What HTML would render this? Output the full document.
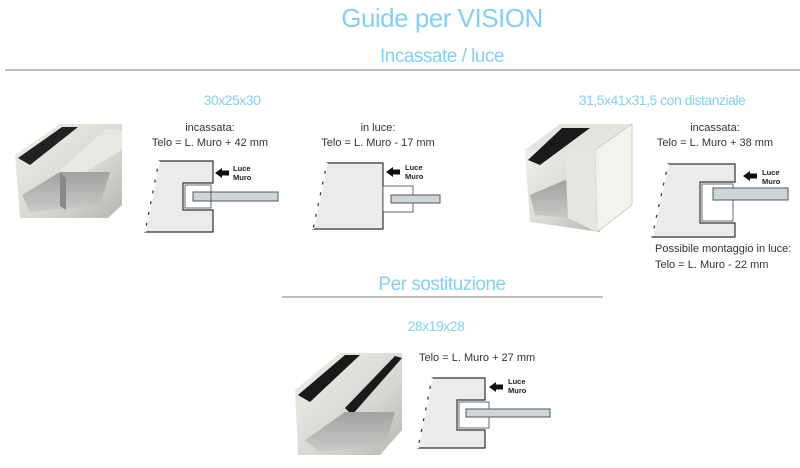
<!DOCTYPE html>
<html><head><meta charset="utf-8"><style>
body{margin:0;background:#fff;width:800px;height:468px;overflow:hidden}
svg{display:block}
text{font-family:"Liberation Sans",sans-serif}
.t{fill:#86cff2;letter-spacing:-0.5px}
.s{fill:#333;font-size:11px;text-anchor:middle}
.w{fill:#e9ebed;stroke:#333;stroke-width:1.2}
.g{fill:#cfd6da;stroke:#555;stroke-width:1}
.lm{font-size:7.5px;font-weight:bold;fill:#222}
</style></head><body>
<svg width="800" height="468" viewBox="0 0 800 468">
<defs>
<linearGradient id="m" x1="0" y1="0" x2="1" y2="1"><stop offset="0" stop-color="#f0f0ea"/><stop offset="0.6" stop-color="#d6d7d2"/><stop offset="1" stop-color="#b5b7b3"/></linearGradient>
<linearGradient id="f" x1="0" y1="0" x2="0" y2="1"><stop offset="0" stop-color="#9fa2a0"/><stop offset="1" stop-color="#c9cbc7"/></linearGradient>
<g id="ar"><polygon points="0,0 7,-5 7,-2.5 14,-2.5 14,2.5 7,2.5 7,5" fill="#111"/></g>
</defs>
<text x="442" y="27" class="t" font-size="26" text-anchor="middle">Guide per VISION</text>
<text x="442" y="62" class="t" font-size="19" text-anchor="middle">Incassate / luce</text>
<line x1="5" y1="70" x2="800" y2="70" stroke="#aaa" stroke-width="1.5"/>

<!-- photo 1 -->
<polygon points="15,155 60,124 122,124 122,205 108,218 20,218" fill="url(#m)"/>
<polygon points="18,158 62,127 78,127 30,165" fill="#222"/>
<polygon points="58,172 105,130 122,130 122,150 72,180" fill="#e8e8e2"/>
<polygon points="22,195 60,172 110,172 100,205 30,212" fill="url(#f)"/>
<polygon points="60,172 66,178 66,210 60,206" fill="#888"/>
<text x="232" y="105" class="t" font-size="14" text-anchor="middle">30x25x30</text>
<text x="210" y="131" class="s">incassata:</text>
<text x="210" y="146" class="s">Telo = L. Muro + 42 mm</text>
<polygon class="w" points="159,161 213,161 213,183 183,183 183,210 213,210 213,232 145,232"/>
<line x1="159" y1="161" x2="145" y2="232" stroke="#fff" stroke-width="2" stroke-dasharray="8,3"/>
<rect class="g" x="193" y="192" width="85" height="9"/>
<rect x="185" y="185" width="26" height="23" fill="none" stroke="#444" stroke-width="0.8"/>
<use href="#ar" x="215" y="173"/>
<text x="233" y="171" class="lm">Luce</text><text x="233" y="180" class="lm">Muro</text>

<text x="378" y="131" class="s">in luce:</text>
<text x="378" y="146" class="s">Telo = L. Muro - 17 mm</text>
<polygon class="w" points="327,163 383,163 383,229 313,229"/>
<line x1="327" y1="163" x2="313" y2="229" stroke="#fff" stroke-width="2" stroke-dasharray="8,3"/>
<rect x="383" y="186" width="30" height="26" fill="#fff" stroke="#444" stroke-width="0.8"/>
<rect class="g" x="391" y="195" width="49" height="8"/>
<use href="#ar" x="386" y="172"/>
<text x="405" y="170" class="lm">Luce</text><text x="405" y="179" class="lm">Muro</text>

<!-- photo 2 -->
<polygon points="525,150 560,124 632,124 600,150" fill="#e4e4de"/>
<polygon points="525,150 600,150 600,232 530,222" fill="url(#m)"/>
<polygon points="528,160 562,128 590,128 540,165" fill="#1a1a1a"/>
<polygon points="530,195 565,180 595,190 595,220 535,215" fill="url(#f)"/>
<polygon points="595,150 632,124 632,205 597,232" fill="#f3f2ec" stroke="#ccc"/>
<polygon points="565,150 595,150 597,232 568,218" fill="#e6e6e0"/>
<text x="662" y="105" class="t" font-size="14" text-anchor="middle">31,5x41x31,5 con distanziale</text>
<text x="715" y="131" class="s">incassata:</text>
<text x="715" y="146" class="s">Telo = L. Muro + 38 mm</text>
<polygon class="w" points="668,164 735,164 735,182 700,182 700,223 735,223 735,237 652,237"/>
<line x1="668" y1="164" x2="652" y2="237" stroke="#fff" stroke-width="2" stroke-dasharray="8,3"/>
<rect x="702" y="184" width="31" height="37" fill="none" stroke="#444" stroke-width="0.8"/>
<rect class="g" x="713" y="188" width="75" height="12"/>
<use href="#ar" x="743" y="176"/>
<text x="762" y="175" class="lm">Luce</text><text x="762" y="184" class="lm">Muro</text>
<text x="655" y="252" class="s" style="text-anchor:start">Possibile montaggio in luce:</text>
<text x="655" y="268" class="s" style="text-anchor:start">Telo = L. Muro - 22 mm</text>

<text x="442" y="290" class="t" font-size="19" text-anchor="middle">Per sostituzione</text>
<line x1="282" y1="297" x2="603" y2="297" stroke="#aaa" stroke-width="1.5"/>
<text x="436" y="331" class="t" font-size="14" text-anchor="middle">28x19x28</text>

<!-- photo 3 -->
<polygon points="295,390 340,353 402,353 402,430 380,455 298,455" fill="url(#m)"/>
<polygon points="298,395 345,355 360,355 310,402" fill="#1a1a1a"/>
<polygon points="345,408 395,356 402,358 352,415" fill="#1a1a1a"/>
<polygon points="305,440 345,412 395,412 385,445 320,452" fill="url(#f)"/>
<text x="419" y="361" class="s" style="text-anchor:start">Telo = L. Muro + 27 mm</text>
<polygon class="w" points="432,378 485,378 485,400 457,400 457,430 485,430 485,448 418,448"/>
<line x1="432" y1="378" x2="418" y2="448" stroke="#fff" stroke-width="2" stroke-dasharray="8,3"/>
<rect x="459" y="402" width="30" height="26" fill="none" stroke="#444" stroke-width="0.8"/>
<rect class="g" x="466" y="409" width="84" height="8"/>
<use href="#ar" x="489" y="387"/>
<text x="508" y="384" class="lm">Luce</text><text x="508" y="393" class="lm">Muro</text>
</svg>
</body></html>
